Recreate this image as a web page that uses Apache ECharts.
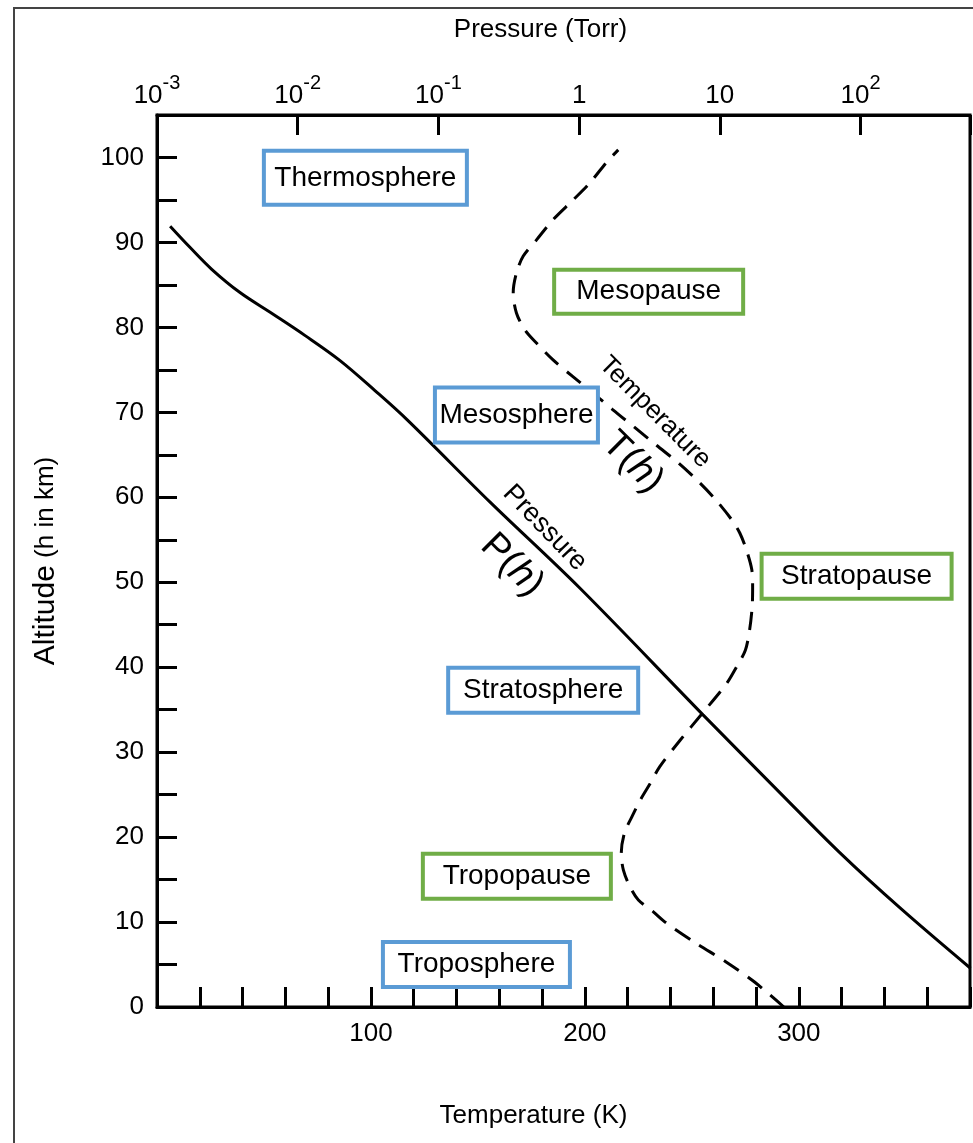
<!DOCTYPE html>
<html>
<head>
<meta charset="utf-8">
<script src="https://cdn.jsdelivr.net/npm/echarts@6/dist/echarts.min.js"></script>
<style>
html,body{margin:0;padding:0;background:#fff;}
.Atmo{width:973px;height:1143px;}
</style>
</head>
<body>
<div class="Atmo"></div>
<script>
// temperature profile
var altT = [0, 3.0, 5.3, 7.5, 9.9, 11.2, 12.6, 14.2, 16.1, 18.1, 20.5, 22.4, 24.4, 26.3, 28.3, 31.4, 34.6, 38.0, 40.1, 42.0, 44.4, 47.2, 49.5, 51.5, 53.8, 55.8, 57.4, 59.7, 61.8, 64.0, 66.1, 68.2, 70.3, 72.3, 74.2, 76.2, 78.1, 79.7, 81.7, 84.1, 86.4, 88.4, 90.3, 92.7, 95.0, 97.0, 99.4, 100.9];
var tempK = [293, 279, 266, 252, 238, 232, 225, 221, 218, 217, 218.5, 222, 226, 230.5, 235, 244.5, 255, 266, 271, 275, 277, 278.2, 278.4, 278, 275.5, 272.4, 268.5, 261.2, 253.3, 243.9, 233.6, 223.4, 213.1, 203.7, 194.4, 185, 177.6, 172, 168, 166.5, 168, 171.2, 177.4, 185.2, 194.5, 202.3, 210, 215.6];

// pressure profile (Torr)
var altP = [91.91, 89.40, 86.81, 84.10, 81.63, 79.03, 76.09, 72.56, 69.14, 59.43, 49.29, 34.39, 25.21, 18.14, 11.66, 4.56];
var pressTorr = [0.00124, 0.00172, 0.00246, 0.00389, 0.00657, 0.0113, 0.0200, 0.0354, 0.0598, 0.233, 1.015, 7.60, 26.8, 71.5, 191, 605];

var zoneNames = ['Thermosphere', 'Mesopause', 'Mesosphere', 'Stratopause', 'Stratosphere', 'Tropopause', 'Troposphere'];
var tempTicks = [100, 200, 300];
var altTicks = [0, 10, 20, 30, 40, 50, 60, 70, 80, 90, 100];
var pressExp = [-3, -2, -1, 0, 1, 2];

var FONT = "'Liberation Sans', Arial, Helvetica, sans-serif";

// where the boxed layer names sit (T, h) and their box sizes
var zoneBoxes = [
	{t: 97.4, h: 97.6, w: 199, hh: 50, c: '#5B9BD5'},
	{t: 229.8, h: 84.2, w: 185, hh: 40, c: '#70AD47'},
	{t: 168, h: 69.7, w: 159, hh: 51, c: '#5B9BD5'},
	{t: 327, h: 50.7, w: 186, hh: 41, c: '#70AD47'},
	{t: 180.5, h: 37.3, w: 186, hh: 41, c: '#5B9BD5'},
	{t: 168.2, h: 15.4, w: 184, hh: 41, c: '#70AD47'},
	{t: 149.3, h: 5.0, w: 183, hh: 41, c: '#5B9BD5'}
];

// curve captions
var curveTags = [
	{text: 'Temperature', t: 232.7, h: 70.0, rot: -45, size: 26},
	{text: 'T({i|h})', t: 222.4, h: 64.1, rot: -45, size: 38},
	{text: 'Pressure', t: 181.3, h: 56.4, rot: -46, size: 27},
	{text: 'P({i|h})', t: 166, h: 52, rot: -45, size: 38}
];

var tempData = [];
for (var i = 0; i < altT.length; i++) tempData.push([tempK[i], altT[i]]);
var pressData = [];
for (var i = 0; i < altP.length; i++) pressData.push([pressTorr[i], altP[i]]);

var boxData = [];
for (var i = 0; i < zoneNames.length; i++) {
	var b = zoneBoxes[i];
	boxData.push({
		value: [b.t, b.h],
		label: {
			formatter: zoneNames[i],
			width: b.w,
			height: b.hh,
			lineHeight: b.hh,
			borderColor: b.c
		}
	});
}

var tagData = [];
for (var i = 0; i < curveTags.length; i++) {
	var g = curveTags[i];
	tagData.push({
		value: [g.t, g.h],
		label: {
			formatter: g.text,
			rotate: g.rot,
			fontSize: g.size,
			rich: {
				i: {fontStyle: 'italic', fontSize: g.size, fontFamily: FONT, color: '#000'}
			}
		}
	});
}

var Atmo = echarts.init(document.querySelector('.Atmo'));
var option = {
	backgroundColor: '#fff',
	animation: false,
	textStyle: {fontFamily: FONT, color: '#000'},
	grid: {
		left: 157,
		right: 3,
		top: 115,
		bottom: 136,
		show: true,
		borderColor: '#000',
		borderWidth: 3,
		containLabel: false,
		outerBoundsMode: 'none'
	},
	graphic: [
		{
			type: 'polyline',
			shape: {points: [[14, 1143], [14, 8], [973, 8]]},
			style: {stroke: '#444', lineWidth: 2, fill: null},
			silent: true
		}
	],
	xAxis: [
		{
			type: 'value',
			position: 'bottom',
			min: 0,
			max: 380,
			interval: 20,
			name: 'Temperature (K)',
			nameLocation: 'middle',
			nameGap: 96,
			nameTextStyle: {fontSize: 26, color: '#000', fontFamily: FONT, padding: [0, 60, 0, 0]},
			axisLine: {show: true, lineStyle: {color: '#000', width: 3}},
			axisTick: {show: true, inside: true, length: 20, lineStyle: {color: '#000', width: 3}},
			axisLabel: {
				fontSize: 26, color: '#000', fontFamily: FONT, margin: 14,
				formatter: function(v) { return tempTicks.indexOf(v) >= 0 ? v : ''; }
			},
			splitLine: {show: false}
		},
		{
			type: 'log',
			position: 'top',
			logBase: 10,
			min: 0.001,
			max: 600,
			name: 'Pressure (Torr)',
			nameLocation: 'middle',
			nameGap: 72,
			nameTextStyle: {fontSize: 26, color: '#000', fontFamily: FONT, padding: [0, 46, 0, 0]},
			axisLine: {show: true, lineStyle: {color: '#000', width: 3}},
			axisTick: {show: true, inside: true, length: 20, lineStyle: {color: '#000', width: 3}},
			minorTick: {show: false},
			axisLabel: {
				fontSize: 26, color: '#000', fontFamily: FONT, margin: 6,
				formatter: function(v) {
					var e = Math.log(v) / Math.LN10;
					var n = Math.round(e);
					if (Math.abs(e - n) > 1e-6 || pressExp.indexOf(n) < 0) return '';
					if (n == 0) return '{b|1}';
					if (n == 1) return '{b|10}';
					return '{b|10}{s|' + n + '}';
				},
				rich: {
					b: {fontSize: 26, color: '#000', fontFamily: FONT, verticalAlign: 'bottom'},
					s: {fontSize: 20, color: '#000', fontFamily: FONT, verticalAlign: 'bottom', padding: [0, 0, 16, 0]}
				}
			},
			splitLine: {show: false}
		}
	],
	yAxis: [
		{
			type: 'value',
			min: 0,
			max: 105,
			interval: 5,
			name: '{a|Altitude} {c|(h in km)}',
			nameLocation: 'middle',
			nameRotate: 90,
			nameGap: 96,
			nameTextStyle: {
				fontSize: 26, color: '#000', fontFamily: FONT,
				rich: {
					a: {fontSize: 30, color: '#000', fontFamily: FONT},
					c: {fontSize: 26, color: '#000', fontFamily: FONT}
				}
			},
			axisLine: {show: true, lineStyle: {color: '#000', width: 3}},
			axisTick: {show: true, inside: true, length: 20, lineStyle: {color: '#000', width: 3}},
			axisLabel: {
				fontSize: 26, color: '#000', fontFamily: FONT, margin: 13,
				showMinLabel: true, showMaxLabel: true,
				formatter: function(v) { return altTicks.indexOf(v) >= 0 ? v : ''; }
			},
			splitLine: {show: false}
		}
	],
	series: [
		{
			name: 'Temperature',
			type: 'line',
			xAxisIndex: 0,
			yAxisIndex: 0,
			data: tempData,
			showSymbol: false,
			smooth: 0.3,
			lineStyle: {color: '#000', width: 3, type: [18, 11]},
			z: 3
		},
		{
			name: 'Pressure',
			type: 'line',
			xAxisIndex: 1,
			yAxisIndex: 0,
			data: pressData,
			showSymbol: false,
			smooth: 0.35,
			lineStyle: {color: '#000', width: 3},
			z: 3
		},
		{
			name: 'layers',
			type: 'scatter',
			xAxisIndex: 0,
			yAxisIndex: 0,
			symbolSize: 1,
			itemStyle: {color: '#fff', opacity: 1},
			silent: true,
			label: {
				show: true,
				position: 'inside',
				align: 'center',
				verticalAlign: 'middle',
				borderWidth: 4,
				backgroundColor: '#fff',
				color: '#000',
				opacity: 1,
				textBorderWidth: 0,
				textBorderColor: 'transparent',
				fontSize: 28,
				fontFamily: FONT
			},
			data: boxData,
			z: 5
		},
		{
			name: 'captions',
			type: 'scatter',
			xAxisIndex: 0,
			yAxisIndex: 0,
			symbolSize: 1,
			itemStyle: {color: '#fff', opacity: 1},
			silent: true,
			label: {
				show: true,
				position: 'inside',
				align: 'center',
				verticalAlign: 'middle',
				color: '#000',
				opacity: 1,
				textBorderWidth: 0,
				textBorderColor: 'transparent',
				fontFamily: FONT
			},
			data: tagData,
			z: 5
		}
	]
};
Atmo.setOption(option);
</script>
</body>
</html>
